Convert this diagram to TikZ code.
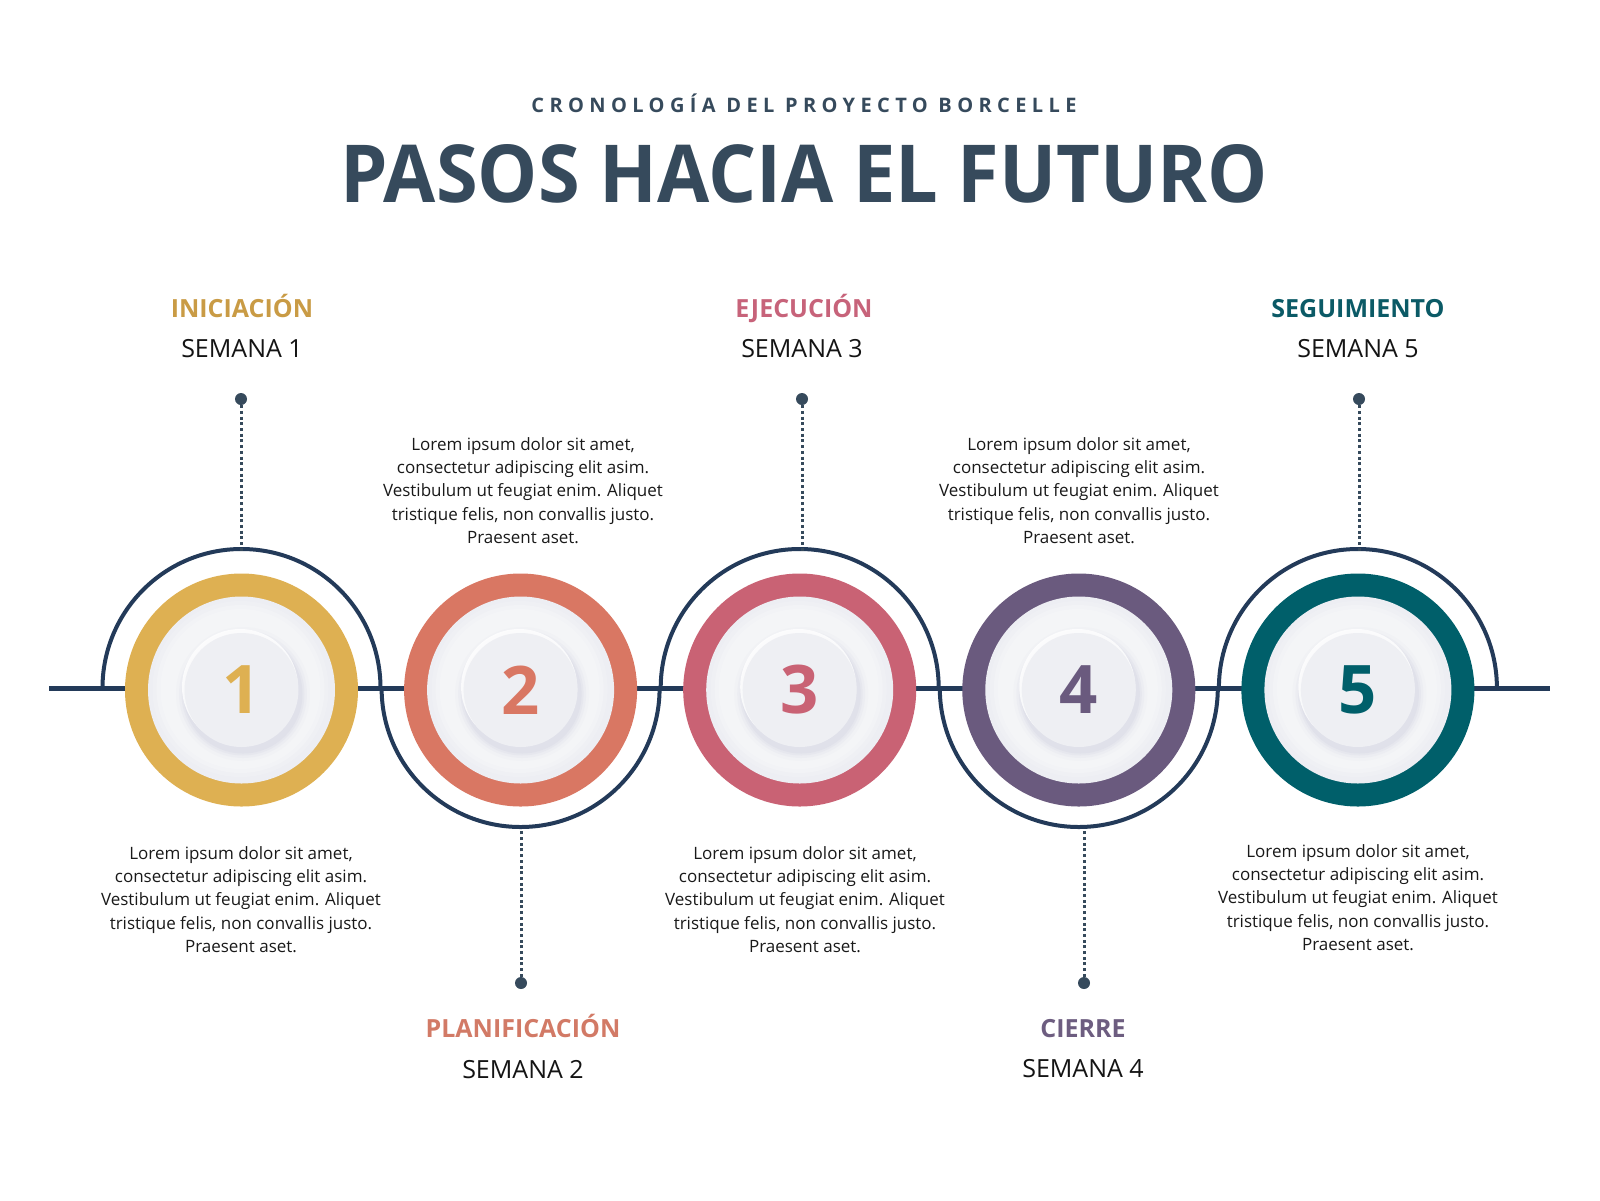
\documentclass[tikz,border=0pt]{standalone}
\usepackage{fontspec}
\setmainfont{Open Sans}
\usetikzlibrary{positioning}

\definecolor{navy}{HTML}{233A59}
\definecolor{titlegray}{HTML}{364A5C}
\definecolor{stepgold}{HTML}{DEB052}
\definecolor{stepcoral}{HTML}{D97763}
\definecolor{steprose}{HTML}{C96274}
\definecolor{steppurple}{HTML}{6A5A7E}
\definecolor{stepteal}{HTML}{005F6A}
\definecolor{labgold}{HTML}{C99B45}
\definecolor{labcoral}{HTML}{D27A66}
\definecolor{labrose}{HTML}{C7637A}
\definecolor{labpurple}{HTML}{6D5D80}
\definecolor{labteal}{HTML}{0B5A66}
\definecolor{platecol}{HTML}{EDEEF3}
\definecolor{shadecol}{HTML}{CFD1DF}

\newcommand{\loremtext}{Lorem ipsum dolor sit amet,\\ consectetur adipiscing elit asim.\\ Vestibulum ut feugiat enim. Aliquet\\ tristique felis, non convallis justo.\\ Praesent aset.}

\begin{document}
\begin{tikzpicture}[x=1pt,y=-1pt,line cap=round,line join=round,
    timeline/.style={draw=navy, line width=5pt, line cap=butt},
    arcline/.style={draw=navy, line width=4pt},
    dotline/.style={draw=titlegray, line width=3pt, line cap=butt, dash pattern=on 3pt off 2.7pt},
    pindot/.style={circle, fill=titlegray, inner sep=0pt, minimum size=12pt},
    ringdisc/.style={circle, inner sep=0pt, minimum size=233pt},
    platedisc/.style={circle, fill=platecol, inner sep=0pt, minimum size=187pt},
    numdisc/.style={circle, fill=platecol!96!white, inner sep=0pt, minimum size=114pt, font=\fontsize{67}{70}\selectfont\bfseries},
    bodytext/.style={align=center, inner sep=0pt, anchor=north, text=black!90, font=\fontsize{17}{23.3}\selectfont},
    steptitle/.style={anchor=base, inner sep=0pt, font=\fontsize{25}{28}\selectfont\bfseries},
    weektext/.style={anchor=base, inner sep=0pt, text=black!92, font=\fontsize{25}{28}\selectfont}]

    \useasboundingbox (0,0) rectangle (1600,1200);

    % Header
    \node[anchor=base, inner sep=0pt, text=titlegray, font=\fontsize{20}{22}\selectfont\bfseries\addfontfeature{LetterSpace=27}] (subtitle) at (804,112) {CRONOLOGÍA DEL PROYECTO BORCELLE};
    \node[anchor=base, inner sep=0pt, text=titlegray, font=\fontsize{80}{90}\selectfont\bfseries] (title) at (804,202) {\scalebox{0.946}[1]{PASOS HACIA EL FUTURO}};

    % Timeline
    \coordinate (lineL) at (49,688);
    \coordinate (lineR) at (1550,688);
    \draw[timeline] (lineL) -- (lineR);

    % Half circles round the steps
    \foreach \cx in {241.5,799.7,1357.9} {
      \draw[arcline] (\cx-139,688) arc[start angle=180, end angle=360, radius=139];
    }
    \foreach \cx in {520.6,1078.8} {
      \draw[arcline] (\cx-139,688) arc[start angle=180, end angle=0, radius=139];
    }

    % Step discs
    \foreach \i/\cx/\col in {1/241.5/stepgold, 2/520.6/stepcoral, 3/799.7/steprose, 4/1078.8/steppurple, 5/1357.9/stepteal} {
      \node[ringdisc, fill=\col] (ring\i) at (\cx,690) {};
      \node[platedisc] (plate\i) at (ring\i) {};
      \foreach \r/\op in {88/0.15, 84/0.2, 80/0.2} {
        \fill[white, opacity=\op] (\cx-1,689) circle[radius=\r];
      }
      \foreach \r/\op in {67/0.08, 64/0.12, 61.5/0.18, 59.5/0.26} {
        \fill[shadecol, opacity=\op] (\cx+1.5,694) circle[radius=\r];
      }
      \fill[white, opacity=0.8] (\cx-1.5,687) circle[radius=58];
      \node[numdisc, text=\col] (num\i) at (ring\i) {\i};
    }

    % Pins and dotted connectors
    \foreach \i/\dx/\ay/\dy in {1/241/551/399, 2/521/829/983, 3/802/551/399, 4/1084/829/983, 5/1359/551/399} {
      \node[pindot] (dot\i) at (\dx,\dy) {};
      \coordinate (arcpt\i) at (\dx,\ay);
      \draw[dotline] (dot\i) -- (arcpt\i);
    }

    % Step names and weeks
    \node[steptitle, text=labgold]   (name1) at (242,317)  {INICIACIÓN};
    \node[weektext]                  (week1) at (242,357)  {SEMANA 1};
    \node[steptitle, text=labcoral]  (name2) at (523,1037) {PLANIFICACIÓN};
    \node[weektext]                  (week2) at (523,1078) {SEMANA 2};
    \node[steptitle, text=labrose]   (name3) at (804,317)  {EJECUCIÓN};
    \node[weektext]                  (week3) at (802,357)  {SEMANA 3};
    \node[steptitle, text=labpurple] (name4) at (1083,1037) {CIERRE};
    \node[weektext]                  (week4) at (1083,1077) {SEMANA 4};
    \node[steptitle, text=labteal]   (name5) at (1358,317) {SEGUIMIENTO};
    \node[weektext]                  (week5) at (1358,357) {SEMANA 5};

    % Descriptions
    \node[bodytext] (desc1) at (241,846)  {\loremtext};
    \node[bodytext] (desc2) at (523,437)  {\loremtext};
    \node[bodytext] (desc3) at (805,846)  {\loremtext};
    \node[bodytext] (desc4) at (1079,437) {\loremtext};
    \node[bodytext] (desc5) at (1358,844) {\loremtext};

\end{tikzpicture}
\end{document}
